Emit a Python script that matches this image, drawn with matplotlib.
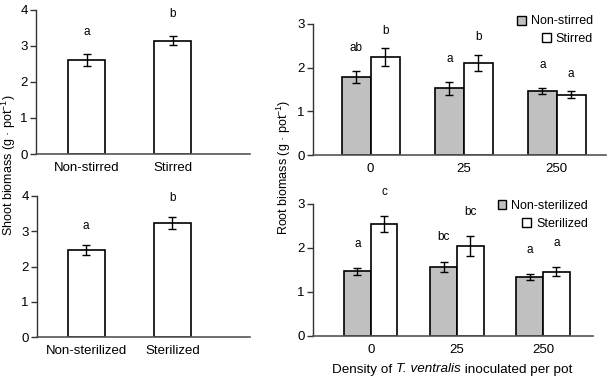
import numpy as np
import matplotlib
matplotlib.use("Agg")
import matplotlib.pyplot as plt
from matplotlib.patches import Patch

plt.rcParams['font.family'] = ['Liberation Sans', 'DejaVu Sans']
plt.rcParams['mathtext.fontset'] = 'custom'
plt.rcParams['mathtext.rm'] = 'Liberation Sans'
plt.rcParams['mathtext.it'] = 'Liberation Sans:italic'

# --- data ---
stir_cats = ['Non-stirred', 'Stirred']
stir_shoot = [2.61, 3.15]
stir_shoot_err = [0.17, 0.13]
stir_shoot_letters = ['a', 'b']

ster_cats = ['Non-sterilized', 'Sterilized']
ster_shoot = [2.47, 3.23]
ster_shoot_err = [0.14, 0.17]
ster_shoot_letters = ['a', 'b']

densities = ['0', '25', '250']
root_nonstirred = [1.78, 1.53, 1.46]
root_nonstirred_err = [0.14, 0.15, 0.07]
root_stirred = [2.24, 2.11, 1.38]
root_stirred_err = [0.20, 0.19, 0.08]
root_stir_letters = [['ab', 'a', 'a'], ['b', 'b', 'a']]

root_nonsterilized = [1.47, 1.57, 1.33]
root_nonsterilized_err = [0.08, 0.12, 0.07]
root_sterilized = [2.54, 2.04, 1.46]
root_sterilized_err = [0.18, 0.23, 0.10]
root_ster_letters = [['a', 'bc', 'a'], ['c', 'bc', 'a']]

W, H = 607, 377
fig = plt.figure(figsize=(W / 100, H / 100), dpi=100)


def px_axes(x0, x1, y_bottom, y_top):
    return fig.add_axes([x0 / W, 1 - y_bottom / H, (x1 - x0) / W, (y_bottom - y_top) / H])


def style(ax, ymax):
    for s in ['top', 'right']:
        ax.spines[s].set_visible(False)
    ax.spines['left'].set_color('#333333')
    ax.spines['bottom'].set_color('#555555')
    ax.spines['left'].set_linewidth(1.0)
    ax.spines['bottom'].set_linewidth(1.2)
    ax.set_ylim(0, ymax)
    ax.set_yticks(range(ymax + 1))
    ax.tick_params(axis='y', direction='out', length=4, width=1, labelsize=9.5, pad=2, color='#333333')
    ax.tick_params(axis='x', length=0, labelsize=9.5, pad=6)


errkw = dict(ecolor='black', elinewidth=1, capsize=2.6, capthick=1)
x = np.arange(2)

# shoot, stirring
ax1 = px_axes(36, 250, 154, 10)
ax1.bar(x, stir_shoot, 0.43, color='white', edgecolor='black', linewidth=1.2,
        yerr=stir_shoot_err, error_kw=errkw, zorder=2)
for xi, v, e, l in zip(x, stir_shoot, stir_shoot_err, stir_shoot_letters):
    ax1.text(xi, v + e + 0.6, l, ha='center', va='center', fontsize=8.5)
ax1.set_xticks(x)
ax1.set_xticklabels(stir_cats)
style(ax1, 4)
ax1.set_xlim(-0.587, 1.90)

# shoot, sterilization
ax2 = px_axes(37, 250, 337, 196)
ax2.bar(x, ster_shoot, 0.43, color='white', edgecolor='black', linewidth=1.2,
        yerr=ster_shoot_err, error_kw=errkw, zorder=2)
for xi, v, e, l in zip(x, ster_shoot, ster_shoot_err, ster_shoot_letters):
    ax2.text(xi, v + e + 0.55, l, ha='center', va='center', fontsize=8.5)
ax2.set_xticks(x)
ax2.set_xticklabels(ster_cats)
style(ax2, 4)
ax2.set_xlim(-0.57, 1.90)


def root_panel(ax, a, ae, b, be, letters, offs, span):
    xs = np.arange(len(densities))
    bw = 0.31
    ax.bar(xs - bw / 2, a, bw, color='#c0c0c0', edgecolor='black', linewidth=1.2,
           yerr=ae, error_kw=errkw, zorder=2)
    ax.bar(xs + bw / 2, b, bw, color='white', edgecolor='black', linewidth=1.2,
           yerr=be, error_kw=errkw, zorder=2)
    for i in range(len(densities)):
        ax.text(xs[i] - bw / 2, a[i] + ae[i] + offs[0], letters[0][i], ha='center', va='center', fontsize=8.5)
        ax.text(xs[i] + bw / 2, b[i] + be[i] + offs[1], letters[1][i], ha='center', va='center', fontsize=8.5)
    ax.set_xticks(xs)
    ax.set_xticklabels(densities)
    style(ax, 3)
    ax.set_xlim(*span)


ax3 = px_axes(313, 606, 155, 24)
root_panel(ax3, root_nonstirred, root_nonstirred_err, root_stirred, root_stirred_err,
           root_stir_letters, (0.52, 0.4), (-0.62, 2.53))

ax4 = px_axes(313, 593, 335.7, 204)
root_panel(ax4, root_nonsterilized, root_nonsterilized_err, root_sterilized, root_sterilized_err,
           root_ster_letters, (0.55, 0.55), (-0.67, 2.58))


def legend_row(label, color, x_right, y_center):
    h = Patch(facecolor=color, edgecolor='black', linewidth=1)
    fig.legend([h], [label], loc='center right',
               bbox_to_anchor=(x_right / W, 1 - y_center / H),
               frameon=False, fontsize=9, handlelength=0.7, handleheight=0.7,
               handletextpad=0.4, borderpad=0, borderaxespad=0)


legend_row('Non-stirred', '#c0c0c0', 593, 21.5)
legend_row('Stirred', 'white', 593, 39)
legend_row('Non-sterilized', '#c0c0c0', 588, 206)
legend_row('Sterilized', 'white', 588, 224)

fig.text(9 / W, 1 - 165 / H, 'Shoot biomass (g · pot$^{-1}$)', rotation=90, ha='center', va='center', fontsize=9)
fig.text(284 / W, 1 - 167 / H, 'Root biomass (g · pot$^{-1}$)', rotation=90, ha='center', va='center', fontsize=9)

# x label with italic species name, built from three pieces
parts = [('Density of ', 'normal'), ('T. ventralis', 'italic'), (' inoculated per pot', 'normal')]
renderer = fig.canvas.get_renderer()
texts = [fig.text(0, 1 - 372.5 / H, s, fontstyle=st, fontsize=9.7, va='baseline') for s, st in parts]
widths = [t.get_window_extent(renderer).width for t in texts]
xpos = 452 - sum(widths) / 2
for t, w in zip(texts, widths):
    t.set_x(xpos / W)
    xpos += w

fig.savefig('out.png', dpi=100)
